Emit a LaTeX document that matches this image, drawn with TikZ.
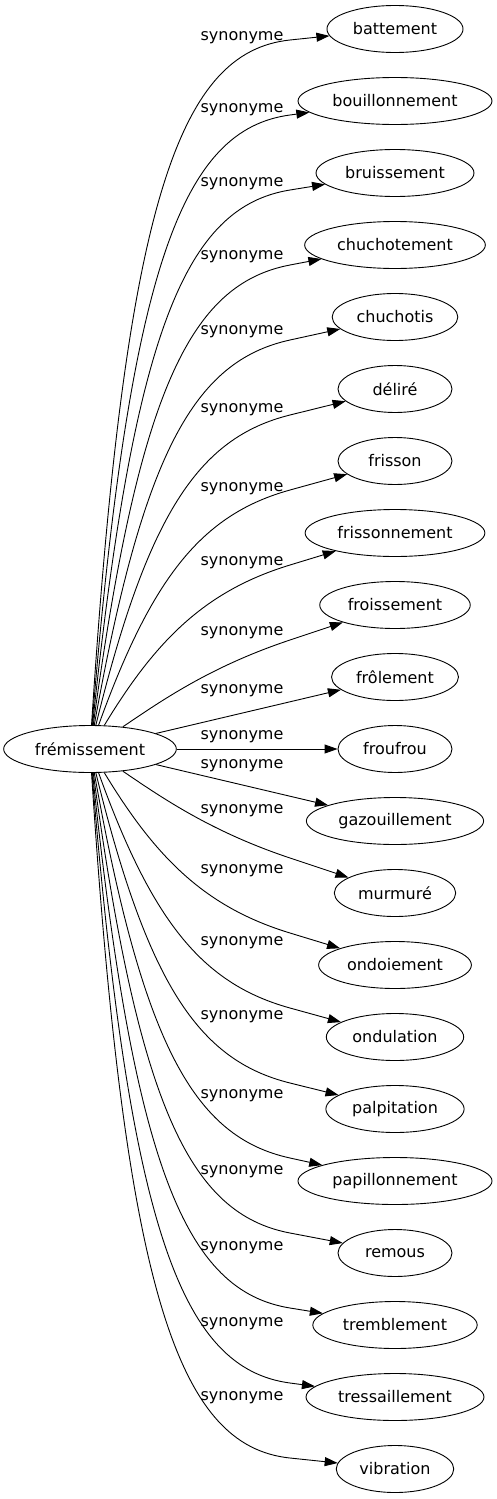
\documentclass[tikz,border=0pt]{standalone}
\usepackage{fontspec}
\setmainfont{DejaVu Sans}
\usepackage{tikz}
\usetikzlibrary{shapes.geometric, arrows.meta}
\tikzstyle{wordnode} = [ellipse, draw, line width=0.9pt, inner xsep=6pt, inner ysep=2pt, minimum width=114pt, minimum height=47pt, font=\fontsize{16}{19}\selectfont]
\tikzstyle{synlabel} = [inner sep=0pt, font=\fontsize{16}{19}\selectfont]
\tikzstyle{synarrow} = [line width=0.9pt, -{Triangle[length=13pt,width=9pt]}]

\begin{document}
\begin{tikzpicture}[x=1pt, y=-1pt]
        \useasboundingbox (0,0) rectangle (496,1499);
        \node[wordnode] (fremissement) at (90,749) {frémissement};
        \foreach \w [count=\i from 0] in {battement, bouillonnement, bruissement, chuchotement, chuchotis, déliré, frisson, frissonnement, froissement, frôlement, froufrou, gazouillement, murmuré, ondoiement, ondulation, palpitation, papillonnement, remous, tremblement, tressaillement, vibration}
          \node[wordnode] (w\i) at (395,29+72*\i) {\w};
        % one edge and one label per target
        \foreach \i/\ly in {0/38, 1/110, 2/184, 3/257, 4/332, 5/410, 6/489, 7/563, 8/633, 9/691, 10/737, 11/766, 12/811, 13/871, 14/943, 15/1017, 16/1096, 17/1172, 18/1248, 19/1324, 20/1398} {
          \node[synlabel] (l\i) at (242,\ly) {synonyme};
          \pgfmathtruncatemacro{\n}{abs(\i-10)}
          \pgfmathsetmacro{\sg}{sign(\i-10)}
          \pgfmathsetmacro{\ty}{29+72*\i}
          \ifnum\n<2
            \draw[synarrow] (fremissement) -- (w\i);
          \else
            \pgfmathsetmacro{\my}{\ty-\sg*(41-3*\n)}
            \coordinate (m\i) at (290,\my);
            \pgfmathsetmacro{\ax}{170-4.5*\n}
            \pgfmathsetmacro{\ay}{749+\sg*(62*\n-76)}
            \pgfmathsetmacro{\len}{72+4*\n}
            \pgfmathsetmacro{\bx}{290-\len}
            \pgfmathsetmacro{\by}{\my-\len*(\ty-\my)/105}
            \draw[synarrow] (fremissement) .. controls (\ax,\ay) and (\bx,\by) .. (m\i) -- (w\i);
          \fi
        }
\end{tikzpicture}
\end{document}
